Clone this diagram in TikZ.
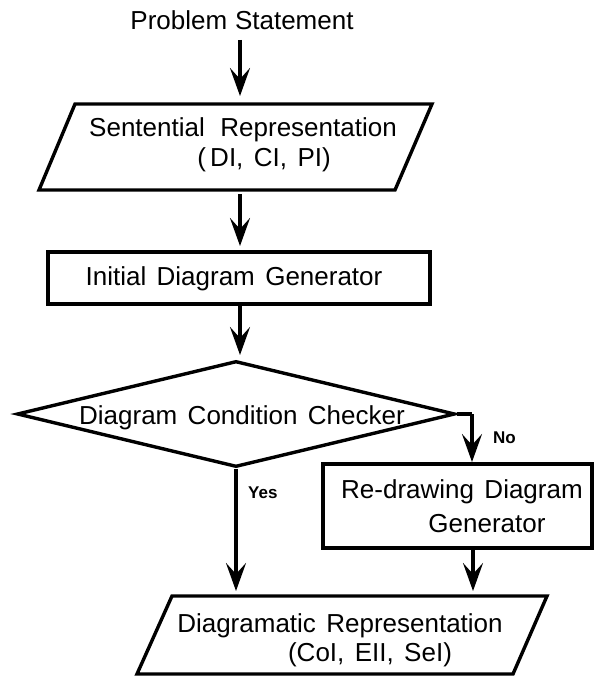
\documentclass[tikz,border=0pt]{standalone}
\usepackage{fontspec}
\setmainfont{Liberation Sans}
\usetikzlibrary{arrows.meta,shapes.geometric}
\begin{document}
\begin{tikzpicture}[x=1pt,y=-1pt,
  outline/.style={draw, line width=3.4pt, line join=miter},
  flow/.style={line width=3.2pt, -{Stealth[length=28pt,width=20pt,inset=11pt]}},
  link/.style={line width=3.2pt},
  txt/.style={font=\fontsize{26}{30}\selectfont, inner sep=0pt, anchor=base},
  tag/.style={font=\fontsize{17}{20}\selectfont\bfseries, inner sep=0pt, anchor=base west}]
\useasboundingbox (0,0) rectangle (594,677);

% title
\node[txt] (problem) at (242,30) {Problem\hspace{0.3em}Statement};
\coordinate (problemOut) at (240,40);

% sentential representation (parallelogram)
\draw[outline] (75,104) -- (432,104) -- (395,190) -- (39,190) -- cycle;
\coordinate (sentIn) at (240,96);
\coordinate (sentOut) at (240,194);
\node[txt] (sentA) at (243,136) {Sentential\hspace{0.6em}Representation};
\node[txt] (sentB) at (264,166) {(\,DI,\hspace{0.4em}CI,\hspace{0.4em}PI)};

% initial diagram generator
\node[outline, minimum width=382pt, minimum height=52pt, inner sep=0pt] (init) at (239,278) {};
\node[txt] (initT) at (234,285) {Initial\hspace{0.4em}Diagram\hspace{0.4em}Generator};
\coordinate (initIn) at (240,246);
\coordinate (initOut) at (240,306);

% condition checker (diamond)
\node[outline, diamond, minimum width=438pt, minimum height=106pt, inner sep=0pt] (check) at (236,414) {};
\node[txt] (checkT) at (242,424) {Diagram\hspace{0.4em}Condition\hspace{0.4em}Checker};
\coordinate (checkIn) at (240,355);
\coordinate (checkNo) at (472,414);
\coordinate (redrawIn) at (472,462);
\coordinate (finalYes) at (236,591);

% re-drawing diagram generator
\node[outline, minimum width=269pt, minimum height=84pt, inner sep=0pt] (redraw) at (457.5,506) {};
\node[txt] (redrawA) at (462,498) {Re-drawing\hspace{0.4em}Diagram};
\node[txt] (redrawB) at (487,532) {Generator};
\coordinate (redrawOut) at (473,550);
\coordinate (finalIn) at (473,591);

% diagramatic representation (parallelogram)
\draw[outline] (172,596) -- (547,596) -- (513,674) -- (137,674) -- cycle;
\node[txt] (finalA) at (340,632) {Diagramatic\hspace{0.4em}Representation};
\node[txt] (finalB) at (370,661) {(CoI,\hspace{0.4em}EII,\hspace{0.4em}SeI)};

% branch labels
\node[tag] (yes) at (248,498) {Yes};
\node[tag] (no) at (493,443) {No};

% connectors
\draw[flow] (problemOut) -- (sentIn);
\draw[flow] (sentOut) -- (initIn);
\draw[flow] (initOut) -- (checkIn);
\draw[link] (check.east) -- (checkNo);
\draw[flow] (checkNo) -- (redrawIn);
\draw[flow] (check.south) -- (finalYes);
\draw[flow] (redrawOut) -- (finalIn);
\end{tikzpicture}
\end{document}
